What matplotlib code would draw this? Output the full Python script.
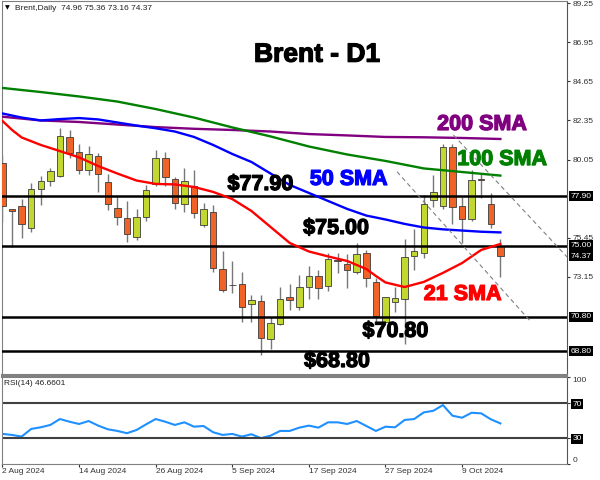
import matplotlib
matplotlib.use('Agg')
import matplotlib.pyplot as plt
import matplotlib.patheffects as pe
import numpy as np

plt.rcParams['font.family'] = ['Liberation Sans', 'DejaVu Sans']

# daily bars, 2 Aug 2024 .. 15 Oct 2024 (53 sessions)
opens = [79.83, 77.13, 77.34, 76.01, 78.32, 78.77, 79.10, 81.38, 80.48, 79.44,
         80.24, 78.75, 77.21, 76.60, 75.48, 76.66, 78.62, 80.12, 78.89, 77.42,
         78.52, 76.21, 76.95, 73.60, 72.70, 72.74, 71.58, 71.74, 69.49, 70.37,
         71.99, 71.37, 72.55, 73.19, 72.64, 74.12, 73.90, 73.46, 74.58, 72.88,
         70.50, 71.70, 71.86, 74.40, 74.54, 77.68, 77.34, 80.77, 77.32, 76.54,
         78.89, 77.42, 74.96]
highs = [80.32, 77.15, 77.73, 78.66, 79.10, 79.54, 81.89, 81.79, 80.95, 80.87,
         80.44, 79.19, 77.87, 77.62, 77.13, 78.56, 80.61, 80.48, 79.04, 79.54,
         79.44, 77.48, 77.38, 74.68, 74.09, 73.43, 72.09, 72.09, 70.80, 72.58,
         72.74, 73.27, 73.80, 73.56, 74.58, 74.58, 74.48, 75.17, 74.74, 73.07,
         72.00, 72.58, 75.38, 75.95, 77.97, 79.14, 80.97, 80.97, 77.87, 79.44,
         79.19, 78.07, 75.36]
lows = [76.38, 74.93, 75.46, 75.78, 77.38, 78.50, 79.04, 80.13, 79.19, 79.14,
        78.13, 77.09, 76.21, 75.23, 75.33, 76.44, 78.52, 78.52, 77.13, 76.99,
        76.64, 76.07, 73.46, 72.29, 72.21, 70.52, 70.52, 68.57, 68.92, 70.33,
        71.21, 71.21, 71.84, 71.86, 72.35, 73.37, 72.49, 73.31, 72.58, 70.45,
        70.43, 71.09, 69.20, 73.56, 74.25, 77.28, 77.15, 76.25, 75.13, 76.44,
        77.81, 76.05, 73.16]
closes = [77.34, 77.05, 76.25, 78.32, 78.77, 79.38, 81.45, 80.42, 79.42, 80.36,
          79.19, 77.42, 76.69, 75.68, 76.66, 78.26, 80.12, 79.01, 77.52, 78.81,
          76.89, 77.13, 73.66, 72.39, 72.66, 71.37, 71.80, 69.58, 70.45, 71.86,
          71.78, 72.58, 73.23, 72.49, 74.19, 74.10, 73.55, 74.48, 73.07, 70.86,
          71.96, 71.90, 74.30, 74.68, 77.42, 78.16, 80.81, 77.25, 76.54, 78.85,
          78.87, 76.25, 74.37]

# moving averages (bar index -> price)
sma21_x = [0, 1, 2, 4, 6, 8, 10, 12, 14, 16, 18, 20, 22, 24, 26, 28, 30, 32,
           34, 36, 38, 39, 40, 42, 44, 46, 48, 50, 52]
sma21 = [82.32, 81.79, 81.35, 80.91, 80.55, 80.18, 79.67, 79.23, 78.82, 78.62,
         78.59, 78.44, 78.15, 77.73, 77.03, 76.09, 75.15, 74.65, 74.36, 74.09,
         73.62, 73.21, 72.83, 72.56, 72.86, 73.39, 73.97, 74.74, 75.09]
sma50_x = list(range(0, 53, 2))
sma50 = [82.76, 82.52, 82.35, 82.43, 82.49, 82.41, 82.23, 82.05, 81.89, 81.70,
         81.38, 80.91, 80.38, 79.91, 79.23, 78.56, 78.09, 77.62, 77.15, 76.76,
         76.53, 76.27, 76.06, 75.95, 75.88, 75.81, 75.77]
sma100_x = list(range(0, 53, 4))
sma100 = [84.26, 84.02, 83.76, 83.46, 83.02, 82.52, 81.94, 81.41, 80.82, 80.35,
          79.97, 79.53, 79.32, 79.11]
sma200_x = list(range(0, 53, 4))
sma200 = [82.57, 82.35, 82.26, 82.11, 81.96, 81.86, 81.79, 81.70, 81.55, 81.47,
          81.38, 81.36, 81.32, 81.26]

rsi = [34.6, 33.4, 31.5, 40.3, 42.2, 44.9, 51.7, 48.6, 46.0, 49.4,
       44.1, 39.9, 38.0, 35.4, 39.1, 45.6, 51.7, 48.6, 44.9, 47.9,
       42.9, 43.7, 36.5, 33.4, 34.6, 31.5, 34.2, 29.7, 32.6, 38.0,
       38.0, 41.8, 44.1, 41.8, 47.9, 47.9, 46.0, 49.4, 43.7, 38.0,
       42.9, 42.2, 50.6, 51.7, 59.3, 61.2, 67.7, 55.5, 53.2, 58.9,
       58.2, 51.4, 46.66]

levels = [77.90, 75.00, 70.80, 68.80]
box_prices = [77.90, 75.00, 74.37, 70.80, 68.80]
price_ticks = [89.25, 86.95, 84.65, 82.35, 80.05, 75.45, 73.15]

# channel (dashed) lines: start / end in (bar, price)
chan1_x, chan1_y = [41.2, 55.1], [79.34, 70.57]
chan2_x, chan2_y = [47.1, 58.96], [81.49, 74.33]

date_labels = ['2 Aug 2024', '14 Aug 2024', '26 Aug 2024', '5 Sep 2024',
               '17 Sep 2024', '27 Sep 2024', '9 Oct 2024']

BULL = '#C2D831'
BEAR = '#EF6326'

fig = plt.figure(figsize=(6, 4.8), dpi=100)
ax = fig.add_axes([2/600, 105/480, 565/600, 374/480])
ax2 = fig.add_axes([2/600, 16/480, 565/600, 87/480])

# --- candles
idx = np.arange(len(opens))
o = np.array(opens)
c = np.array(closes)
up = c >= o
lo = np.minimum(o, c)
hgt = np.maximum(np.abs(c - o), 0.04)
ax.vlines(idx, lows, highs, color='#777777', lw=1, zorder=2)
ax.bar(idx[up], hgt[up], bottom=lo[up], width=0.68, color=BULL,
       edgecolor='#3c3c3c', lw=0.6, zorder=3)
ax.bar(idx[~up], hgt[~up], bottom=lo[~up], width=0.68, color=BEAR,
       edgecolor='#3c3c3c', lw=0.6, zorder=3)

for lv in levels:
    ax.axhline(lv, color='black', lw=1.8, zorder=3.5)

ax.plot(sma200_x, sma200, color='#800080', lw=1.7, zorder=4)
ax.plot(sma100_x, sma100, color='#008000', lw=1.7, zorder=4)
ax.plot(sma50_x, sma50, color='#0000FF', lw=1.7, zorder=4)
ax.plot(sma21_x, sma21, color='#FF0000', lw=1.7, zorder=4)

ax.plot(chan1_x, chan1_y, color='#808080', lw=0.8, dashes=(4, 3), zorder=4)
ax.plot(chan2_x, chan2_y, color='#808080', lw=0.8, dashes=(4, 3), zorder=4)

ax.set_xlim(-0.05, 58.96)
ax.set_ylim(67.39, 89.37)
ax.set_xticks([])
ax.yaxis.tick_right()
ax.set_yticks(price_ticks)
ax.set_yticklabels(['%.2f' % t for t in price_ticks])
ax.tick_params(axis='y', labelsize=6, colors='#333333', length=2.5, pad=1.5)
for s in ax.spines.values():
    s.set_color('#808080')
ax.spines['right'].set_color('#555555')
ax.spines['bottom'].set_linewidth(1.5)

for p in box_prices:
    ax.annotate('%.2f' % p, xy=(1, p), xycoords=('axes fraction', 'data'),
                xytext=(2.5, 0), textcoords='offset points', va='center', ha='left',
                fontsize=6, color='white', annotation_clip=False, zorder=7,
                bbox=dict(boxstyle='square,pad=0.2', fc='black', ec='none'))


def heavy(col):
    # thicken the bold face a little, the original uses a black-weight font
    return [pe.withStroke(linewidth=0.9, foreground=col)]


big = dict(fontsize=15.5, fontweight='bold', va='baseline', zorder=6)
for x, y, s, col in [(23.5, 78.26, '$77.90', 'black'),
                     (31.4, 75.68, '$75.00', 'black'),
                     (37.6, 69.63, '$70.80', 'black'),
                     (31.5, 67.86, '$68.80', 'black'),
                     (45.4, 81.79, '200 SMA', '#800080'),
                     (47.5, 79.73, '100 SMA', '#008000'),
                     (32.1, 78.56, '50 SMA', '#0000FF'),
                     (44.0, 71.80, '21 SMA', '#FF0000')]:
    ax.text(x, y, s, color=col, path_effects=heavy(col), **big)

fig.text(317/600, 1 - 61.7/480, 'Brent - D1', ha='center', va='baseline',
         fontsize=19, fontweight='bold', path_effects=heavy('black'))
fig.text(5/600, 1 - 8/480, '\u25bc', fontsize=4.5, va='center', family='DejaVu Sans')
fig.text(15/600, 1 - 8/480, 'Brent,Daily  74.96 75.36 73.16 74.37',
         fontsize=6, va='center', color='#222222')

# --- RSI panel
ax2.plot(range(len(rsi)), rsi, color='#1E90FF', lw=1.5)
ax2.axhline(70, color='#404040', lw=1.5)
ax2.axhline(30, color='#404040', lw=1.5)
ax2.set_xlim(-0.05, 58.96)
ax2.set_ylim(0, 100)
ax2.yaxis.tick_right()
ax2.set_yticks([0, 30, 70, 100])
ylbls = ax2.set_yticklabels(['0', '30', '70', '100'])
ax2.tick_params(axis='y', labelsize=6, colors='#333333', length=2.5, pad=1.5)
ylbls[0].set_va('bottom')
ylbls[3].set_va('top')
for lb in (ylbls[1], ylbls[2]):
    lb.set_color('white')
    lb.set_bbox(dict(boxstyle='square,pad=0.15', fc='black', ec='none'))

ax2.set_xticks(range(0, 8 * len(date_labels), 8))
xl = ax2.set_xticklabels(date_labels)
for lb in xl:
    lb.set_ha('left')
ax2.tick_params(axis='x', labelsize=6, colors='#333333', length=2.5, pad=0.5)
for s in ax2.spines.values():
    s.set_color('#808080')
ax2.spines['top'].set_linewidth(1.5)
ax2.spines['right'].set_color('#555555')
ax2.text(0.004, 0.92, 'RSI(14) 46.6601', transform=ax2.transAxes, fontsize=6,
         va='center', color='#222222')

fig.savefig('out.png', dpi=100)
